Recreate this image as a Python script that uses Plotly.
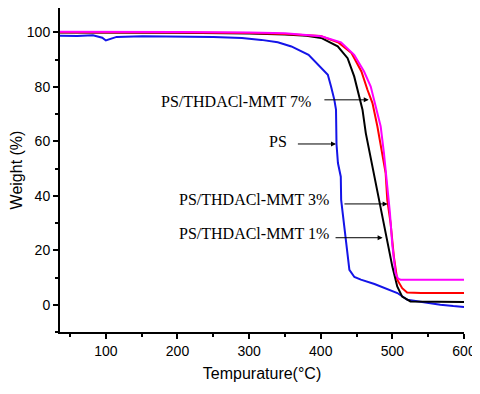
import plotly.graph_objects as go

# TGA curves (temperature in °C, weight in %)
ps_temp = [36, 60, 82, 95, 100, 106, 115, 151, 200, 250,
           290, 317, 340, 359, 383, 400.6, 409.9, 414.4, 419, 421.3,
           422, 424, 428, 428.5, 434, 440, 447, 456, 475, 484,
           507, 521, 548, 567, 585, 600]
ps_weight = [98.7, 98.6, 98.9, 98.0, 97.0, 97.6, 98.3, 98.5, 98.4, 98.3,
             97.9, 97.2, 96.3, 94.8, 91.7, 86.9, 84.4, 80.1, 75.2, 71.6,
             59.0, 52.0, 47.0, 38.5, 25.0, 12.8, 10.2, 9.2, 7.6, 6.7,
             4.3, 1.8, 0.6, 0.0, -0.5, -0.8]

mmt3_temp = [36, 100, 200, 300, 350, 380, 400.6, 423.7, 437.5, 446.7,
             453.6, 458.3, 462.9, 472.2, 481.3, 486, 492.9, 499.9, 506.8, 513.7,
             525.2, 566.8, 600]
mmt3_weight = [99.9, 99.9, 99.8, 99.5, 99.2, 98.7, 97.9, 94.8, 90.5, 83.8,
               76.4, 71.6, 63.0, 50.8, 38.5, 32.4, 22.6, 14.1, 6.7, 3.0,
               1.2, 1.0, 1.0]

mmt1_temp = [36, 100, 200, 300, 350, 400, 425, 442.9, 456.8, 465.2,
             472.2, 479.1, 486, 490.6, 492.9, 497.5, 502.1, 506.8, 513.7, 520.6,
             540, 600]
mmt1_weight = [100.0, 100.0, 99.9, 99.7, 99.4, 98.6, 96.2, 92.4, 85.6, 78.9,
               74.0, 65.4, 55.7, 48.3, 38.5, 30.0, 17.7, 9.2, 6.1, 4.5,
               4.3, 4.3]

mmt7_temp = [36, 100, 200, 300, 350, 400.6, 428.3, 446.7, 460.5, 469.8,
             475.5, 483.7, 488.2, 492.9, 496.5, 499.9, 504.4, 508, 511.4, 540,
             600]
mmt7_weight = [100.2, 100.2, 100.1, 99.9, 99.6, 98.5, 96.3, 91.7, 85.6, 80.1,
               74.0, 65.4, 55.7, 44.0, 34.0, 22.0, 11.6, 9.6, 9.2, 9.2,
               9.2]

labels = ['PS/THDACl-MMT 7%', 'PS', 'PS/THDACl-MMT 3%', 'PS/THDACl-MMT 1%']

fig = go.Figure()
for t, w, c, name in [(ps_temp, ps_weight, '#1414e8', 'PS'),
                      (mmt3_temp, mmt3_weight, 'black', '3%'),
                      (mmt1_temp, mmt1_weight, '#ff0000', '1%'),
                      (mmt7_temp, mmt7_weight, '#ff00ff', '7%')]:
    fig.add_trace(go.Scatter(x=t, y=w, mode='lines', name=name,
                             line=dict(color=c, width=2)))

serif = dict(family='Liberation Serif, Times New Roman, serif', size=16, color='black')

# (text anchor x, y), (arrow tail x, head x, y)
label_pos = [(389.5, 74.6, 403, 467, 75.2),
             (356, 59.8, 366, 421.3, 59.0),
             (414, 38.5, 431, 493.4, 37.0),
             (414, 26.0, 418.6, 486.4, 24.6)]

for txt, (tx, ty, x0, x1, ay) in zip(labels, label_pos):
    fig.add_annotation(x=tx, y=ty, text=txt, showarrow=False,
                       xanchor='right', yanchor='middle', font=serif)
    fig.add_annotation(x=x1, y=ay, ax=x0, ay=ay, axref='x', ayref='y',
                       text='', showarrow=True, arrowhead=2, arrowsize=1,
                       arrowwidth=1, arrowcolor='black')

sans = dict(family='Liberation Sans, Arial, sans-serif', size=14, color='black')

# page body adds an 8px offset, so the figure is a bit smaller than the window
fig.update_layout(
    width=472, height=386,
    margin=dict(l=49, r=16, t=0, b=62),
    paper_bgcolor='white', plot_bgcolor='white',
    showlegend=False,
    font=sans,
)
fig.update_xaxes(
    range=[36, 600], tick0=0, dtick=100,
    showline=True, linecolor='black', linewidth=2,
    ticks='outside', ticklen=5, tickwidth=2, tickcolor='black',
    showgrid=False, zeroline=False,
    tickfont=sans,
    minor=dict(ticks='outside', dtick=50, tick0=0, ticklen=3, tickwidth=2, tickcolor='black', showgrid=False),
    title=dict(text='Tempurature(°C)', font=dict(family='Liberation Sans, Arial, sans-serif', size=16), standoff=10),
)
fig.update_yaxes(
    range=[-10, 108.9], tick0=0, dtick=20,
    showline=True, linecolor='black', linewidth=2,
    ticks='outside', ticklen=5, tickwidth=2, tickcolor='black',
    showgrid=False, zeroline=False,
    tickfont=sans,
    minor=dict(ticks='outside', dtick=10, tick0=0, ticklen=3, tickwidth=2, tickcolor='black', showgrid=False),
    title=dict(text='Weight (%)', font=dict(family='Liberation Sans, Arial, sans-serif', size=16), standoff=8),
)

fig.write_html("out.html")
